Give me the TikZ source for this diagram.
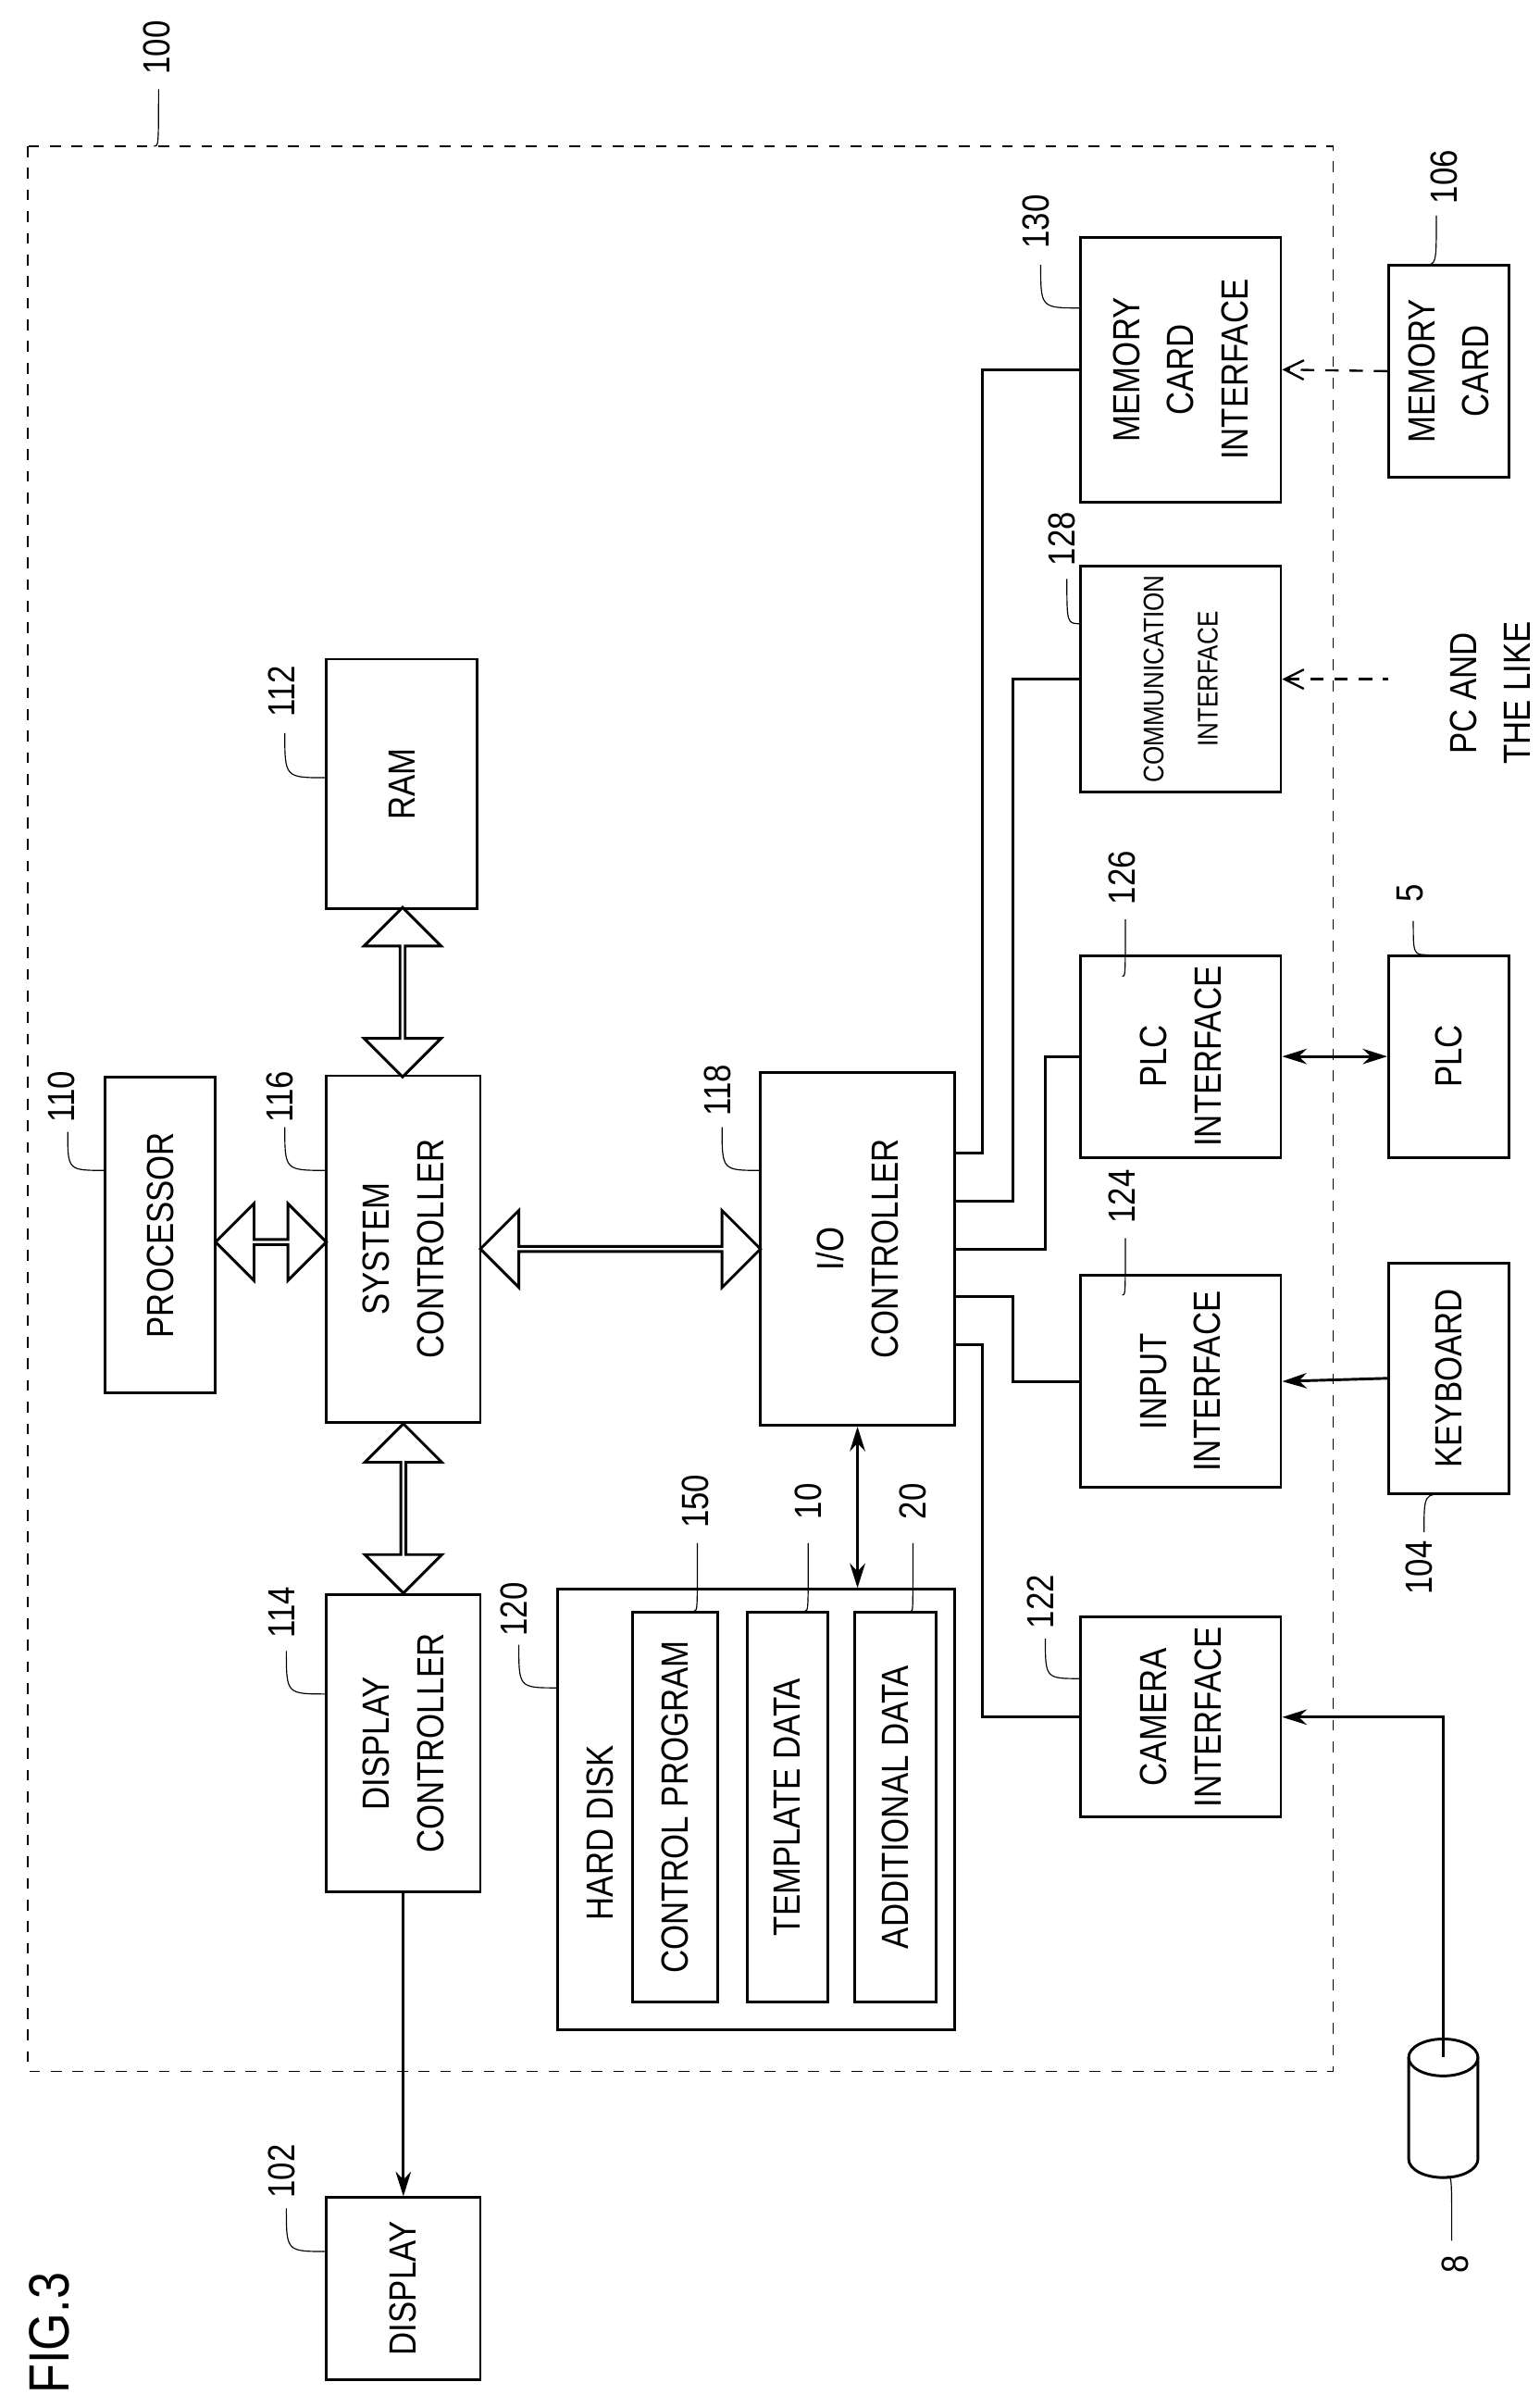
\documentclass[tikz,border=0pt]{standalone}
\usepackage{fontspec}
\setmainfont{Liberation Sans}[FakeStretch=0.85]
\usetikzlibrary{arrows.meta,shapes.arrows,calc}
\tikzset{
  blk/.style={draw,line width=1pt,rotate=90,align=center,inner sep=0pt,
    font=\fontsize{14}{20}\selectfont},
  lbl/.style={rotate=90,inner sep=1pt,font=\fontsize{14}{16}\selectfont},
  fat/.style={double arrow,draw,line width=1pt,fill=white,inner sep=0pt,
    minimum width=1cm,double arrow head extend=0.25cm},
  sig/.style={line width=1pt,-{Stealth[length=0.32cm,width=0.2cm]}},
  dsig/.style={line width=1pt,{Stealth[length=0.32cm,width=0.2cm]}-{Stealth[length=0.32cm,width=0.2cm]}},
  opt/.style={line width=0.8pt,dash pattern=on 5pt off 4pt,-{Straight Barb[length=0.25cm,width=0.25cm]}},
}
\begin{document}
\begin{tikzpicture}[x=0.02cm,y=-0.02cm]
\useasboundingbox (0,0) rectangle (1000,1563);

% outer frame
\draw[line width=0.6pt,dash pattern=on 4pt off 4pt] (18,95) rectangle (866,1345);

% blocks
\node[blk,minimum width=4.1cm,minimum height=1.44cm] (proc) at (104,802) {PROCESSOR};
\node[blk,minimum width=4.5cm,minimum height=2cm] (sys) at (262,811) {SYSTEM\\CONTROLLER};
\node[blk,minimum width=3.24cm,minimum height=1.96cm] (ram) at (261,509) {RAM};
\node[blk,minimum width=3.86cm,minimum height=2cm] (dispc) at (262,1132) {DISPLAY\\CONTROLLER};
\node[blk,minimum width=2.36cm,minimum height=2cm] (disp) at (262,1486) {DISPLAY};
\node[blk,minimum width=4.58cm,minimum height=2.52cm] (io) at (557,811) {I/O\\CONTROLLER};
\node[blk,minimum width=5.72cm,minimum height=5.16cm] (hd) at (491,1175) {};
\node[rotate=90,font=\fontsize{14}{16}\selectfont] (hdtext) at (390,1190) {HARD DISK};
\node[blk,minimum width=5.06cm,minimum height=1.1cm] (ctrl) at (438.5,1173.5) {CONTROL PROGRAM};
\node[blk,minimum width=5.06cm,minimum height=1.04cm] (tmpl) at (511.5,1173.5) {TEMPLATE DATA};
\node[blk,minimum width=5.06cm,minimum height=1.06cm] (addl) at (581.5,1173.5) {ADDITIONAL DATA};
\node[blk,minimum width=2.6cm,minimum height=2.6cm] (cami) at (767,1115) {CAMERA\\INTERFACE};
\node[blk,minimum width=2.76cm,minimum height=2.6cm] (inpi) at (767,897) {INPUT\\INTERFACE};
\node[blk,minimum width=2.62cm,minimum height=2.6cm] (plci) at (767,686) {PLC\\INTERFACE};
\node[blk,minimum width=2.94cm,minimum height=2.6cm,font=\fontsize{10.5}{20}\selectfont] (comi) at (767,441) {COMMUNICATION\\INTERFACE};
\node[blk,minimum width=3.44cm,minimum height=2.6cm] (memi) at (767,240) {MEMORY\\CARD\\INTERFACE};
\node[blk,minimum width=2.76cm,minimum height=1.56cm] (memc) at (941,241) {MEMORY\\CARD};
\node[blk,minimum width=2.62cm,minimum height=1.56cm] (plc) at (941,686) {PLC};
\node[blk,minimum width=3cm,minimum height=1.56cm] (kbd) at (941,895) {KEYBOARD};
\node[rotate=90,align=center,font=\fontsize{14}{20}\selectfont] (pc) at (968,450) {PC AND\\THE LIKE};
\node[rotate=90,font=\fontsize{21}{24}\selectfont] (fig) at (32,1515) {FIG.3};

% camera
\draw[line width=1pt] (937.5,1336) ellipse [x radius=22.5,y radius=12];
\draw[line width=1pt] (915,1336) -- (915,1402) arc[start angle=180,end angle=0,x radius=22.5,y radius=12] -- (960,1336);
\coordinate (camtop) at (937.5,1336);
\coordinate (pcend) at (902,441);

% buses
\path (proc.south) -- node[fat,minimum height=1.44cm] {} (sys.north);
\path (sys.south) -- node[fat,minimum height=3.64cm] {} (io.north);
\path (ram.west) -- node[fat,minimum height=2.2cm,shape border rotate=90] {} (sys.east);
\path (sys.west) -- node[fat,minimum height=2.2cm,shape border rotate=90] {} (dispc.east);

% signal lines
\draw[dsig] (io.west) -- (io.west |- hd.east);
\draw[sig] (dispc.west) -- (disp.east);
\draw[line width=1pt] (io.south |- 0,749) -| (638,240) -- (memi.north);
\draw[line width=1pt] (io.south |- 0,780) -| (658,441) -- (comi.north);
\draw[line width=1pt] (io.south |- 0,811) -| (679,686) -- (plci.north);
\draw[line width=1pt] (io.south |- 0,842) -| (658,897) -- (inpi.north);
\draw[line width=1pt] (io.south |- 0,873) -| (638,1115) -- (cami.north);
\draw[opt] (memc.north) -- (memi.south);
\draw[opt,{Straight Barb[length=0.25cm,width=0.25cm]}-] (comi.south) -- (pcend);
\draw[dsig] (plci.south) -- (plc.north);
\draw[sig] (kbd.north) -- (inpi.south);
\draw[sig] (camtop) |- (cami.south);

% reference numerals
\foreach \lx/\ly/\t/\ax/\ay/\bx/\by in {
  102/31/100/103/58/100/95, 40/712/110/44/735/68/760, 182/712/116/185/732/212/760,
  183/449/112/185/476/212/505, 183/1047/114/186/1072/212/1100, 183/1410/102/186/1434/212/1462,
  466/708/118/469/732/494/760, 334/1045/120/337/1068/362/1096, 452/975/150/453/1002/451/1046,
  525/975/10/525/1002/523/1046, 593/975/20/593/1002/592/1046, 676/1040/122/679/1064/702/1090,
  729/777/124/731/804/729/841, 729/570/126/731/597/729/634, 690/350/128/693/376/702/405,
  673/144/130/676/172/702/200, 938/115/106/933/140/925/172, 916/580/5/918/598/928/620,
  922/1018/104/925/995/940/970, 945/1470/8/943/1455/940/1413}{
  \node[lbl] at (\lx,\ly) {\t};
  \draw[line width=0.4pt] (\ax,\ay) .. controls (\ax,\by) .. (\bx,\by);
}
\end{tikzpicture}
\end{document}
